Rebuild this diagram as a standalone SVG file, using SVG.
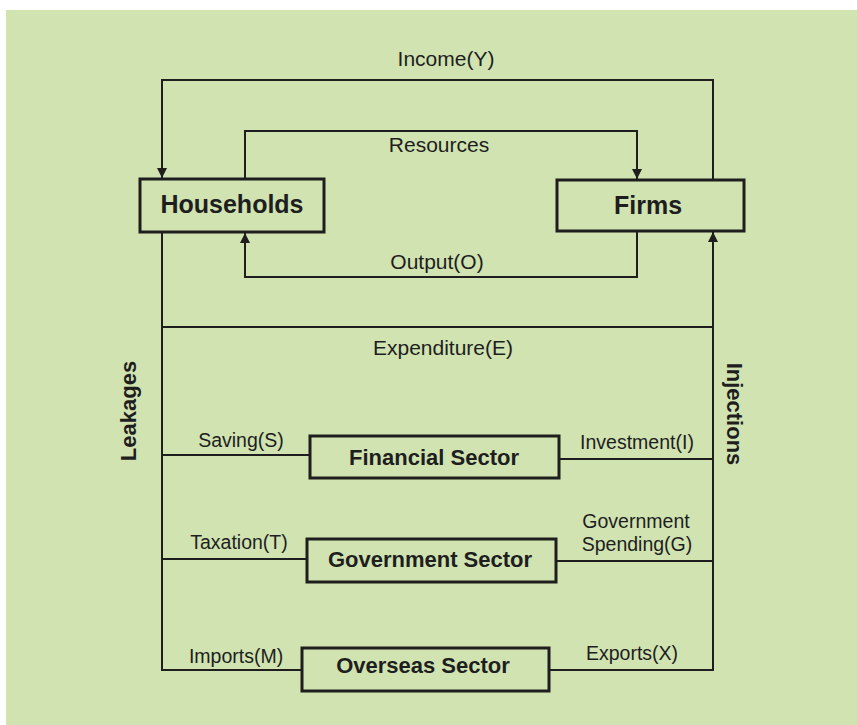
<svg xmlns="http://www.w3.org/2000/svg" width="857" height="725" viewBox="0 0 857 725">
<defs>
<style>
.bg{fill:#d0e3b1}
.box{fill:none;stroke:#1e1e1e;stroke-width:3}
.ln{fill:none;stroke:#1e1e1e;stroke-width:2}
.lbl{font-family:"Liberation Sans",Arial,sans-serif;font-size:21px;fill:#1e1e1e}
.sm{font-family:"Liberation Sans",Arial,sans-serif;font-size:19.5px;fill:#1e1e1e}
.bold{font-family:"Liberation Sans",Arial,sans-serif;font-weight:bold;fill:#1e1e1e}
</style>
<marker id="ah" viewBox="0 0 10 10" refX="10" refY="5" markerWidth="5" markerHeight="5" orient="auto" markerUnits="strokeWidth">
<path d="M0,0 L10,5 L0,10 z" fill="#1e1e1e"/>
</marker>
</defs>
<rect x="0" y="0" width="857" height="725" fill="#ffffff"/>
<rect class="bg" x="6" y="10" width="851" height="715"/>

<g id="connectors">
<path class="ln" d="M713,180 V80 H162 V178" marker-end="url(#ah)"/>
<path class="ln" d="M245,179 V131 H637 V179" marker-end="url(#ah)"/>
<path class="ln" d="M637,232 V277 H245 V233" marker-end="url(#ah)"/>
<path class="ln" d="M162,232 V670 H302"/>
<path class="ln" d="M162,327 H713"/>
<path class="ln" d="M549,670 H713 V232" marker-end="url(#ah)"/>
<path class="ln" d="M162,455 H310"/>
<path class="ln" d="M559,459 H713"/>
<path class="ln" d="M162,559 H307"/>
<path class="ln" d="M556,561 H713"/>
<text class="lbl" x="446" y="66" text-anchor="middle">Income(Y)</text>
<text class="lbl" x="439" y="152" text-anchor="middle">Resources</text>
<text class="lbl" x="437" y="269" text-anchor="middle">Output(O)</text>
<text class="lbl" x="443" y="355" text-anchor="middle">Expenditure(E)</text>
<text class="sm" x="241" y="447" text-anchor="middle">Saving(S)</text>
<text class="sm" x="637" y="449" text-anchor="middle">Investment(I)</text>
<text class="sm" x="239" y="549" text-anchor="middle">Taxation(T)</text>
<text class="sm" x="636" y="528" text-anchor="middle">Government</text>
<text class="sm" x="637" y="551" text-anchor="middle">Spending(G)</text>
<text class="sm" x="236" y="663" text-anchor="middle">Imports(M)</text>
<text class="sm" x="632" y="660" text-anchor="middle">Exports(X)</text>
<text class="bold" font-size="22" transform="translate(136,411) rotate(-90)" text-anchor="middle">Leakages</text>
<text class="bold" font-size="22" transform="translate(727,414) rotate(90)" text-anchor="middle">Injections</text>
</g>

<g id="households">
<rect class="box" x="140" y="179" width="184" height="53"/>
<text class="bold" font-size="25" x="232" y="213" text-anchor="middle">Households</text>
</g>
<g id="firms">
<rect class="box" x="557" y="180" width="187" height="51"/>
<text class="bold" font-size="25" x="648" y="214" text-anchor="middle">Firms</text>
</g>
<g id="financial">
<rect class="box" x="310" y="436" width="249" height="42"/>
<text class="bold" font-size="22" x="434" y="465" text-anchor="middle">Financial Sector</text>
</g>
<g id="government">
<rect class="box" x="307" y="539" width="249" height="43"/>
<text class="bold" font-size="22" x="430" y="567" text-anchor="middle">Government Sector</text>
</g>
<g id="overseas">
<rect class="box" x="302" y="648" width="247" height="43"/>
<text class="bold" font-size="22" x="423" y="673" text-anchor="middle">Overseas Sector</text>
</g>
</svg>
